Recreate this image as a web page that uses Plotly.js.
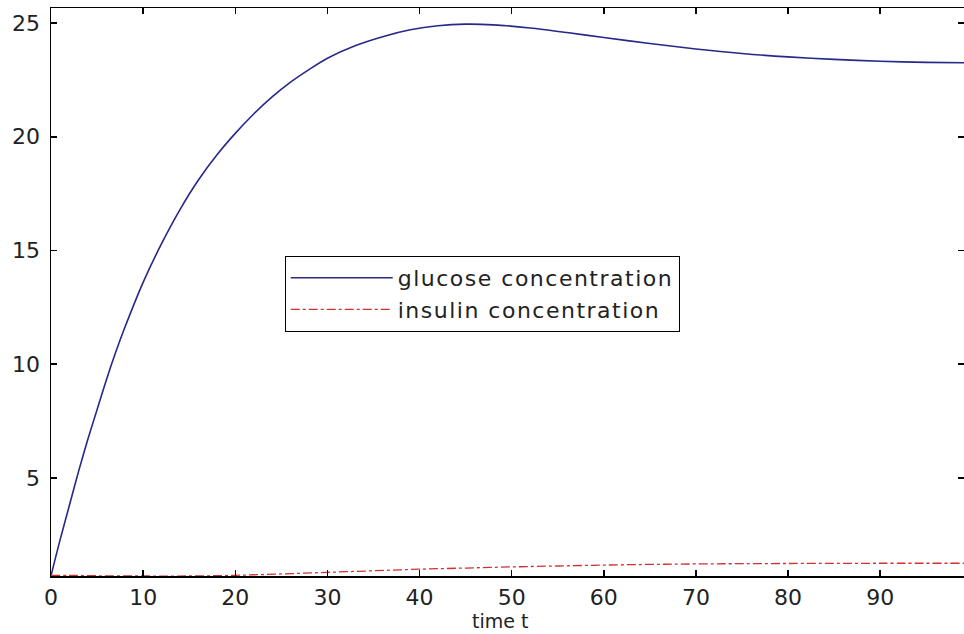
<!DOCTYPE html>
<html>
<head>
<meta charset="utf-8">
<script src="https://cdn.plot.ly/plotly-3.0.1.min.js"></script>
<style>
html,body{margin:0;padding:0;background:#fff;}
#chart{width:964px;height:634px;}
text.legendtext{letter-spacing:1.5px;}
</style>
</head>
<body>
<div id="chart"></div>
<script>
const glucoseT = [0, 1, 2, 3, 4, 5, 6, 7, 8, 10, 12, 14, 16, 18, 20, 22, 24, 26, 28, 30, 33, 36, 39, 42, 45, 48, 52, 56, 60, 65, 70, 75, 80, 85, 90, 95, 99.1];
const glucoseV = [0.7, 2.3, 3.8, 5.3, 6.7, 8.0, 9.3, 10.5, 11.6, 13.6, 15.3, 16.8, 18.1, 19.2, 20.15, 21.0, 21.75, 22.4, 22.95, 23.45, 24.0, 24.4, 24.7, 24.88, 24.95, 24.92, 24.78, 24.58, 24.36, 24.1, 23.86, 23.66, 23.51, 23.4, 23.32, 23.27, 23.25];
const insulinT = [0, 2, 5, 10, 15, 20, 25, 30, 35, 40, 45, 50, 55, 60, 65, 70, 80, 90, 99.1];
const insulinV = [0.72, 0.72, 0.70, 0.69, 0.69, 0.72, 0.78, 0.85, 0.92, 0.99, 1.04, 1.09, 1.13, 1.17, 1.2, 1.22, 1.24, 1.25, 1.25];
const xTicks = [0, 10, 20, 30, 40, 50, 60, 70, 80, 90];
const yTicks = [5, 10, 15, 20, 25];
const seriesNames = ["glucose concentration", "insulin concentration"];
const xTitle = "time t";

const fam = "DejaVu Sans, Liberation Sans, Arial, sans-serif";
const tickFont = {family: fam, size: 22, color: "#222"};

const traces = [
  {x: glucoseT, y: glucoseV, name: seriesNames[0], mode: "lines", line: {color: "#26288a", width: 1.6, shape: "spline", smoothing: 0.8}},
  {x: insulinT, y: insulinV, name: seriesNames[1], mode: "lines", line: {color: "#d03030", width: 1.3, dash: "dashdot", shape: "spline"}}
];

const layout = {
  width: 964, height: 634,
  margin: {l: 51, r: 0, t: 8, b: 58},
  paper_bgcolor: "#fff", plot_bgcolor: "#fff",
  font: tickFont,
  showlegend: true,
  legend: {x: 0.256, y: 0.5635, xanchor: "left", yanchor: "top", bordercolor: "#000", borderwidth: 1, bgcolor: "#fff",
           font: {family: fam, size: 22, color: "#222"}, itemwidth: 102, tracegroupgap: 0},
  xaxis: {
    range: [0, 99.1], tickvals: xTicks, ticktext: xTicks.map(String),
    showline: true, linecolor: "#000", linewidth: 1.5, mirror: "ticks",
    ticks: "inside", ticklen: 6, tickcolor: "#000", tickwidth: 1.5,
    showgrid: false, zeroline: false, automargin: false,
    ticklabelstandoff: 1,
    tickfont: tickFont
  },
  yaxis: {
    range: [0.69, 25.66], tickvals: yTicks, ticktext: yTicks.map(String),
    showline: true, linecolor: "#000", linewidth: 1.5, mirror: "ticks",
    ticks: "inside", ticklen: 6, tickcolor: "#000", tickwidth: 1.5,
    showgrid: false, zeroline: false, automargin: false,
    ticklabelstandoff: 5,
    tickfont: tickFont
  },
  annotations: [{
    text: xTitle, xref: "paper", yref: "paper", x: 0.4918, y: -0.079,
    xanchor: "center", yanchor: "middle", showarrow: false,
    font: {family: fam, size: 19, color: "#222"}
  }]
};

Plotly.newPlot("chart", traces, layout, {displayModeBar: false, staticPlot: true});
</script>
</body>
</html>
